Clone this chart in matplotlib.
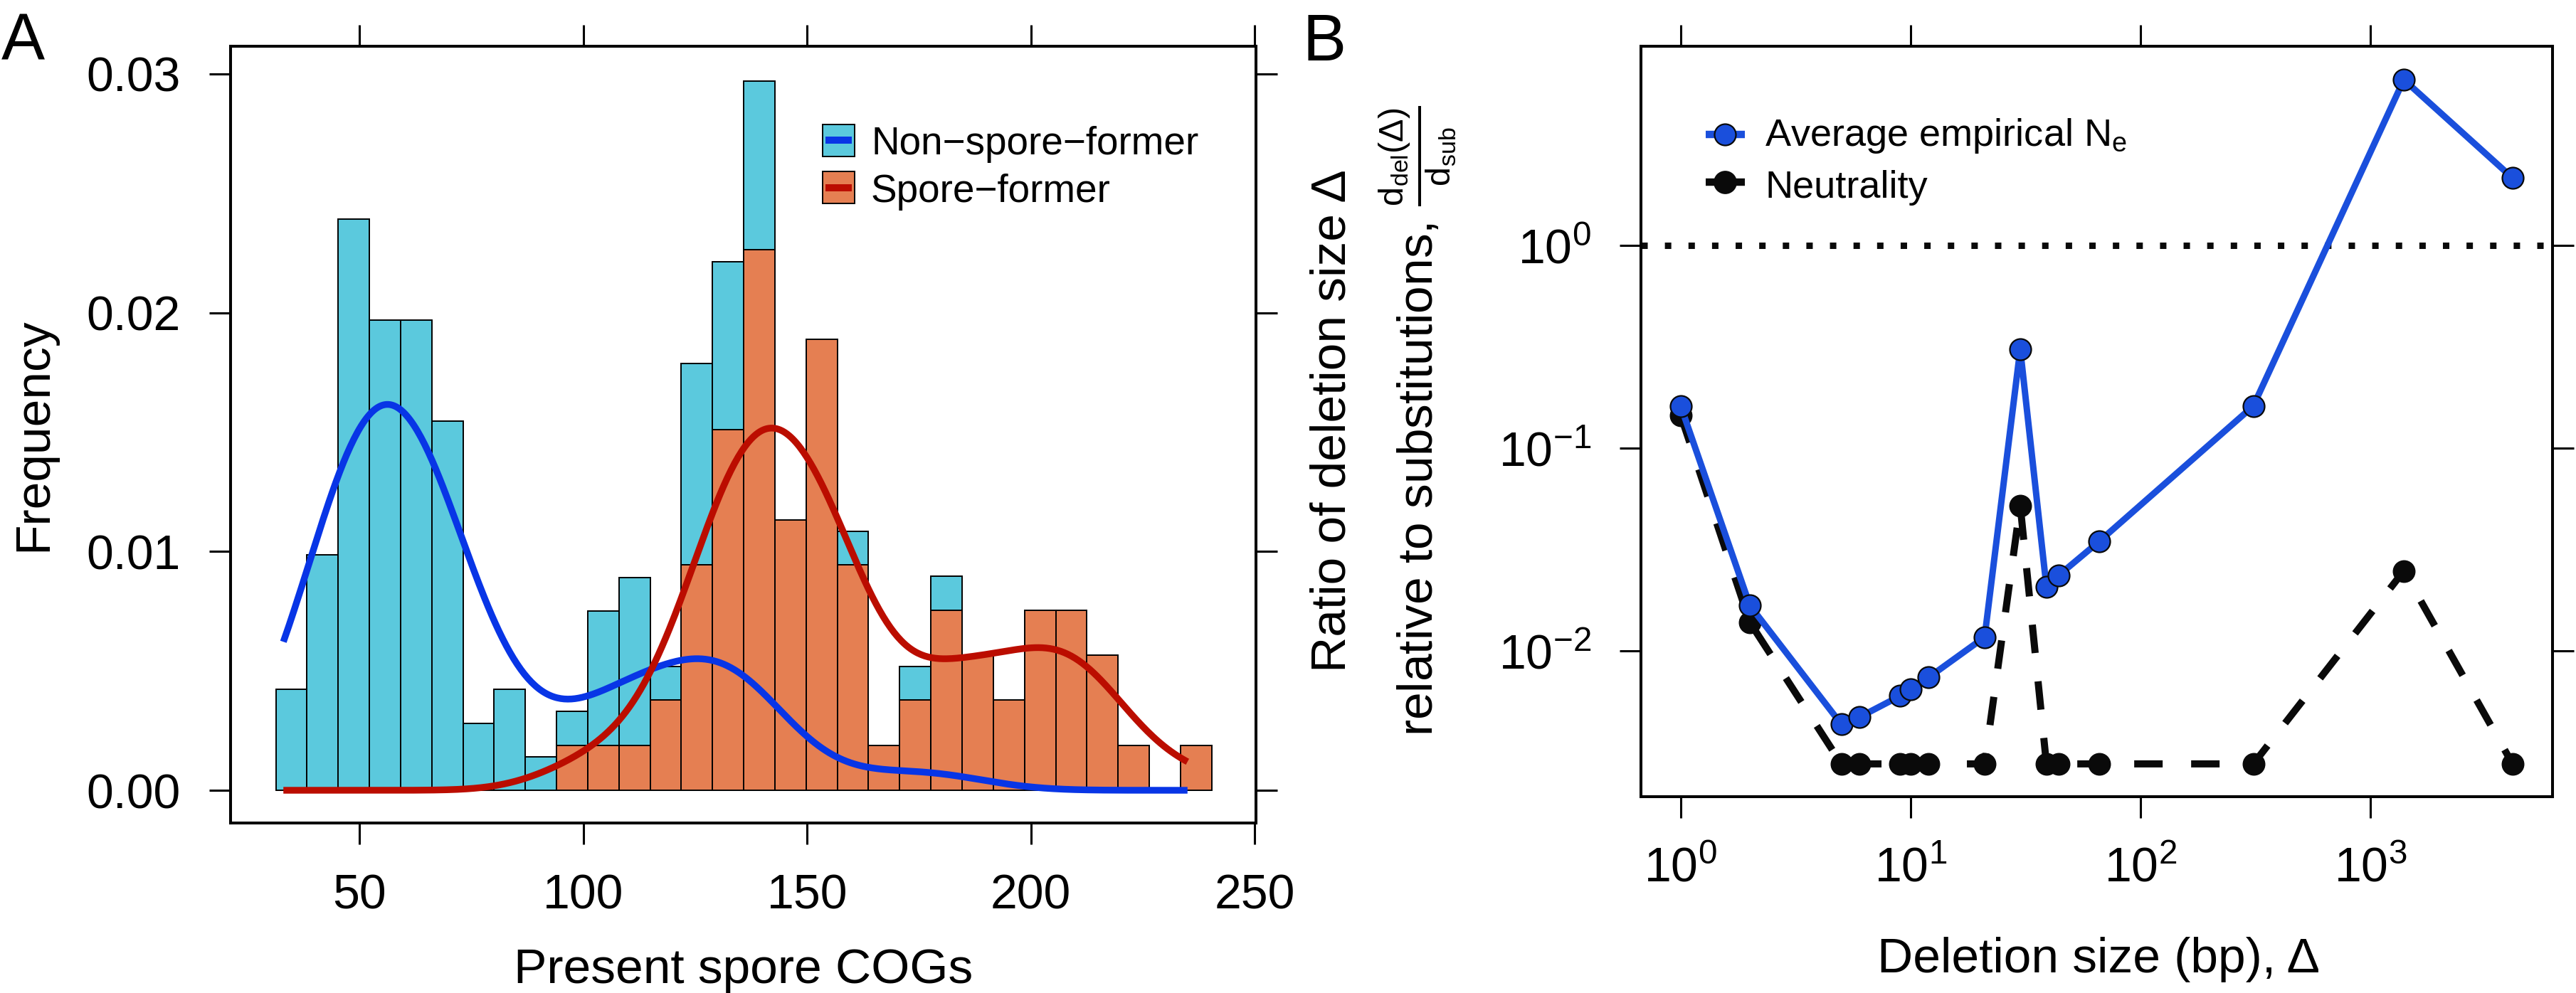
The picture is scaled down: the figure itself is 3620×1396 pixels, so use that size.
import numpy as np
import matplotlib.pyplot as plt
import matplotlib as mpl
from matplotlib.patches import Rectangle
from matplotlib.lines import Line2D
from matplotlib.ticker import NullLocator, FixedLocator, FixedFormatter

mpl.rcParams['font.family'] = ['Liberation Sans', 'DejaVu Sans']
mpl.rcParams['mathtext.fontset'] = 'custom'
mpl.rcParams['mathtext.rm'] = 'Liberation Sans'
mpl.rcParams['mathtext.it'] = 'Liberation Sans:italic'
mpl.rcParams['mathtext.bf'] = 'Liberation Sans:bold'
mpl.rcParams['axes.linewidth'] = 2.9

# ---- panel A : histogram of present spore COGs ----
bin_start = 31.3
bin_width = 6.97
nonspore_counts = [3, 7, 17, 14, 14, 11, 2, 3, 1, 1, 4, 5, 1, 6, 5, 5, 0, 0, 1, 0,
                   1, 1, 0, 0, 0, 0, 0, 0, 0, 0]
spore_counts = [0, 0, 0, 0, 0, 0, 0, 0, 0, 1, 1, 1, 2, 5, 8, 12, 6, 10, 5, 1,
                2, 4, 3, 2, 4, 4, 3, 1, 0, 1]
kde_from, kde_to = 33, 235
bw_adjust = {'nonspore': 1.0, 'spore': 0.93}
labels_A = ['Non\u2212spore\u2212former', 'Spore\u2212former']

# ---- panel B : deletion size ratio ----
deletion_size = [1, 2, 5, 6, 9, 10, 12, 21, 30, 39, 44, 66, 310, 1400, 4160]
empirical_ne = [0.162, 0.0168, 0.00436, 0.00473, 0.00601, 0.00649, 0.00743, 0.01173,
                0.309, 0.0208, 0.0236, 0.0347, 0.162, 6.59, 2.16]
neutrality = [0.1455, 0.01386, 0.00278, 0.00278, 0.00278, 0.00278, 0.00278, 0.00278,
              0.0523, 0.00278, 0.00278, 0.00278, 0.00278, 0.0249, 0.00278]
labels_B = [r'Average empirical N$_\mathrm{e}$', 'Neutrality']

c_cyan = '#5bc9dd'
c_orange = '#e57f52'
c_blue = '#0835e6'
c_red = '#bb0d00'
c_blueB = '#1a4fdc'
c_black = '#0a0a0a'

W, H = 3620, 1396
def fx(px): return px / W
def fy(py): return 1 - py / H

fig = plt.figure(figsize=(W / 100, H / 100), dpi=100)

tick_kw = dict(direction='out', length=21.6, width=2.2, pad=29, labelsize=49,
               top=True, right=True, labeltop=False, labelright=False)

# ================= A =================
axA = fig.add_axes([fx(324), fy(1157), fx(1765) - fx(324), fy(65) - fy(1157)])
edges = bin_start + bin_width * np.arange(len(spore_counts) + 1)
left = edges[:-1]
ns = np.array(nonspore_counts, float)
sp = np.array(spore_counts, float)
ns_d = ns / (ns.sum() * bin_width)
sp_d = sp / (sp.sum() * bin_width)

m = ns > 0
axA.bar(left[m], ns_d[m], width=bin_width, bottom=sp_d[m], align='edge',
        color=c_cyan, edgecolor='k', linewidth=1.4, zorder=2)
m = sp > 0
axA.bar(left[m], sp_d[m], width=bin_width, align='edge',
        color=c_orange, edgecolor='k', linewidth=1.4, zorder=3)

centres = left + bin_width / 2

def kde(counts, grid, adjust=1.0):
    # gaussian kernel, R's bw.nrd0 rule
    x = np.repeat(centres, np.array(counts))
    sd = x.std(ddof=1)
    q75, q25 = np.percentile(x, [75, 25])
    bw = adjust * 0.9 * min(sd, (q75 - q25) / 1.34) * len(x) ** -0.2
    z = (grid[:, None] - x[None, :]) / bw
    return np.exp(-0.5 * z ** 2).sum(1) / (len(x) * bw * np.sqrt(2 * np.pi))

grid = np.linspace(kde_from, kde_to, 500)
axA.plot(grid, kde(nonspore_counts, grid, bw_adjust['nonspore']), color=c_blue,
         lw=6.8, zorder=4, solid_capstyle='butt')
axA.plot(grid, kde(spore_counts, grid, bw_adjust['spore']), color=c_red,
         lw=6.8, zorder=5, solid_capstyle='butt')

axA.set_xlim(21.2, 250.3)
axA.set_ylim(-0.00137, 0.03116)
axA.set_xticks([50, 100, 150, 200, 250])
axA.set_yticks([0, 0.01, 0.02, 0.03])
axA.set_yticklabels(['0.00', '0.01', '0.02', '0.03'])
axA.tick_params(**tick_kw)
fig.text(fx(1045), fy(1382), 'Present spore COGs', fontsize=50, ha='center', va='baseline')
fig.text(fx(65), fy(611), 'Frequency', fontsize=50, rotation=90, rotation_mode='anchor',
         ha='center', va='baseline')

# legend A (drawn by hand, figure pixels)
for (fill, line), lab, top, base in zip([(c_cyan, c_blue), (c_orange, c_red)], labels_A,
                                        [174.5, 241], [217, 284]):
    fig.add_artist(Rectangle((fx(1156), fy(top + 45)), fx(45), 45 / H, transform=fig.transFigure,
                             facecolor=fill, edgecolor='k', lw=1.4))
    fig.add_artist(Line2D([fx(1160), fx(1197)], [fy(top + 22.5)] * 2, transform=fig.transFigure,
                          color=line, lw=7.2, solid_capstyle='butt'))
    fig.text(fx(1224), fy(base), lab, fontsize=39.5, ha='left', va='baseline')

# ================= B =================
axB = fig.add_axes([fx(2306), fy(1119.5), fx(3587) - fx(2306), fy(65) - fy(1119.5)])
axB.set_xscale('log')
axB.set_yscale('log')
axB.axhline(1, color=c_black, lw=6.5, ls=(0, (1, 2.67)), dash_capstyle='butt', zorder=1)
axB.plot(deletion_size, neutrality, color=c_black, lw=7.2, ls=(0, (4, 4)),
         dash_capstyle='butt', marker='o', ms=22, mfc=c_black, mec=c_black, zorder=2)
axB.plot(deletion_size, empirical_ne, color=c_blueB, lw=6.5, marker='o', ms=21.6,
         mfc=c_blueB, mec=c_black, mew=1.6, zorder=3)
axB.set_xlim(10 ** -0.173, 10 ** 3.793)
axB.set_ylim(10 ** -2.716, 10 ** 0.984)
axB.xaxis.set_major_locator(FixedLocator([1, 10, 100, 1000]))
axB.xaxis.set_major_formatter(FixedFormatter([r'$10^{0}$', r'$10^{1}$', r'$10^{2}$', r'$10^{3}$']))
axB.yaxis.set_major_locator(FixedLocator([0.01, 0.1, 1]))
axB.yaxis.set_major_formatter(FixedFormatter([r'$10^{-2}$', r'$10^{-1}$', r'$10^{0}$']))
axB.xaxis.set_minor_locator(NullLocator())
axB.yaxis.set_minor_locator(NullLocator())
axB.tick_params(**tick_kw)
fig.text(fx(2949), fy(1367), 'Deletion size (bp), \u0394', fontsize=50, ha='center', va='baseline')
fig.text(fx(1890), fy(592), 'Ratio of deletion size \u0394', fontsize=50, rotation=90,
         rotation_mode='anchor', ha='center', va='baseline')
fig.text(fx(2013), fy(592),
         r'relative to substitutions, $\frac{\mathrm{d_{del}(\Delta)}}{\mathrm{d_{sub}}}$',
         fontsize=50, rotation=90, rotation_mode='anchor', ha='center', va='baseline')

# legend B (drawn by hand)
for (col, ms), lab, yc, base in zip([(c_blueB, 21.6), (c_black, 22)], labels_B,
                                    [189, 256], [205, 278]):
    fig.add_artist(Line2D([fx(2397), fx(2452)], [fy(yc)] * 2, transform=fig.transFigure,
                          color=col, lw=7.5, solid_capstyle='butt'))
    fig.add_artist(Line2D([fx(2424)], [fy(yc)], transform=fig.transFigure, marker='o',
                          ms=ms, mfc=col, mec=c_black, mew=1.6, ls='none'))
    fig.text(fx(2480), fy(base), lab, fontsize=39, ha='left', va='baseline')

fig.text(fx(2), fy(85), 'A', fontsize=66, ha='left', va='baseline')
fig.text(fx(1830), fy(85), 'B', fontsize=66, ha='left', va='baseline')

fig.savefig('out.png', dpi=100)
